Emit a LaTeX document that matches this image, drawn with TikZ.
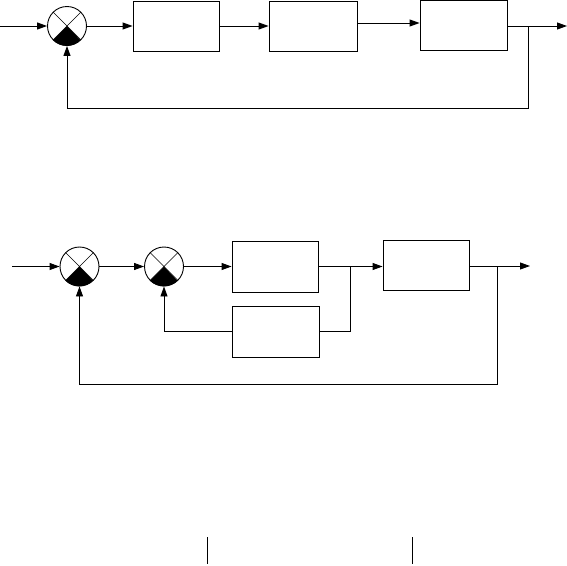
\documentclass[tikz,border=0pt]{standalone}
\usetikzlibrary{arrows.meta,calc}
\begin{document}
\begin{tikzpicture}[x=1pt,y=1pt,line width=0.9pt,
  blk/.style={draw,rectangle,inner sep=0pt},
  sumj/.style={draw,circle,minimum size=39pt,inner sep=0pt},
  arr/.style={-{Triangle[length=10pt,width=7pt]}}]
\useasboundingbox (0,0) rectangle (567,-565);
\newcommand{\sumdeco}[1]{%
  \fill (#1.center) -- (#1.-135) arc[start angle=-135,end angle=-45,radius=19.5pt] -- cycle;
  \draw[line width=0.6pt] (#1.45) -- (#1.-135) (#1.135) -- (#1.-45);}
% ---------- top diagram ----------
\node[sumj] (s1) at (67,-26) {};
\sumdeco{s1}
\node[blk,minimum width=86pt,minimum height=50pt] (b1) at (176,-26) {};
\node[blk,minimum width=88pt,minimum height=50pt] (b2) at (313,-26) {};
\node[blk,minimum width=87pt,minimum height=50pt] (b3) at (463.5,-25) {};
\coordinate (in1) at (0,-26);
\coordinate (out1) at (567,-26);
\coordinate (br1) at (528,-26);
\coordinate (fb1) at (528,-108);
\coordinate (m23) at (357,-23);
\draw[arr] (in1) -- (s1.west);
\draw[arr] (s1.east) -- (b1.west);
\draw[arr] (b1.east) -- (b2.west);
\draw[arr] (m23) -- (m23 -| b3.west);
\draw[arr] (b3.east |- out1) -- (out1);
\draw[arr] (br1) -- (fb1) -| (s1.south);
% ---------- bottom diagram ----------
\node[sumj] (s2) at (79.5,-266.5) {};
\sumdeco{s2}
\node[sumj] (s3) at (164,-266.5) {};
\sumdeco{s3}
\node[blk,minimum width=86pt,minimum height=51pt] (bA) at (275,-266.5) {};
\node[blk,minimum width=87pt,minimum height=51pt] (bB) at (275.5,-331.5) {};
\node[blk,minimum width=86pt,minimum height=50pt] (bC) at (426,-265) {};
\coordinate (in2) at (12,-266.5);
\coordinate (out2) at (530,-266);
\coordinate (j1) at (350,-266);
\coordinate (br2) at (497,-266);
\coordinate (fb2) at (497,-384);
\draw[arr] (in2) -- (s2.west);
\draw[arr] (s2.east) -- (s3.west);
\draw[arr] (s3.east) -- (bA.west);
\draw[arr] (bA.east) -- (bA.east -| bC.west);
\draw (j1) |- (bB.east);
\draw[arr] (bB.west) -| (s3.south);
\draw[arr] (bC.east |- out2) -- (out2);
\draw[arr] (br2) -- (fb2) -| (s2.south);
% ---------- bottom ticks ----------
\coordinate (t1a) at (207,-537); \coordinate (t1b) at (207,-564);
\coordinate (t2a) at (412,-537); \coordinate (t2b) at (412,-564);
\draw (t1a) -- (t1b);
\draw (t2a) -- (t2b);
\end{tikzpicture}
\end{document}
